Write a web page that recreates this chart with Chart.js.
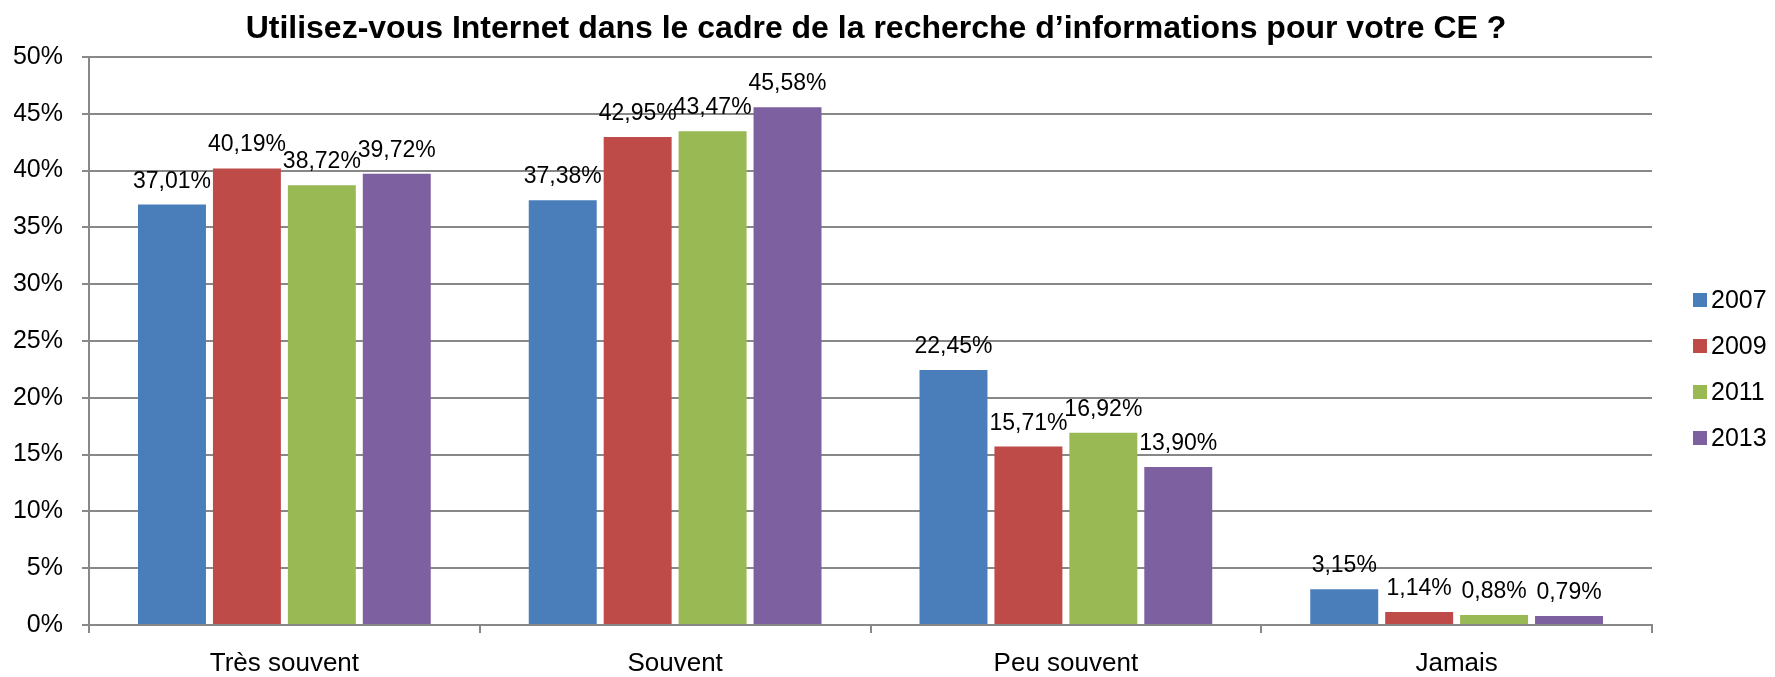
<!DOCTYPE html>
<html>
<head>
<meta charset="utf-8">
<script src="https://cdn.jsdelivr.net/npm/chart.js@4"></script>
<style>
  html, body { margin: 0; padding: 0; background: #fff; }
  #wrap { width: 1775px; height: 677px; }
</style>
</head>
<body>
<div id="wrap"><canvas id="myChart" width="1775" height="677"></canvas></div>
<script>
// données
const chartTitle = 'Utilisez-vous Internet dans le cadre de la recherche d\u2019informations pour votre CE ?';
const categories = ['Très souvent', 'Souvent', 'Peu souvent', 'Jamais'];
const years = ['2007', '2009', '2011', '2013'];
const v2007 = [37.01, 37.38, 22.45, 3.15];
const v2009 = [40.19, 42.95, 15.71, 1.14];
const v2011 = [38.72, 43.47, 16.92, 0.88];
const v2013 = [39.72, 45.58, 13.90, 0.79];
const colors = ['#4A7EBB', '#BE4B48', '#98B954', '#7D60A0'];

const FONT = "'Liberation Sans', Arial, sans-serif";
const GRID = '#888888';

// titre centré sur toute l'image (comme Excel)
const topTitle = {
    id: 'topTitle',
    afterDraw(chart) {
        const ctx = chart.ctx;
        ctx.save();
        ctx.font = 'bold 32px ' + FONT;
        ctx.fillStyle = '#000';
        ctx.textAlign = 'center';
        ctx.textBaseline = 'alphabetic';
        ctx.fillText(chartTitle, 876, 38);
        ctx.restore();
    }
};

// étiquettes de valeur au-dessus des barres
const barLabels = {
    id: 'barLabels',
    afterDatasetsDraw(chart) {
        const ctx = chart.ctx;
        ctx.save();
        ctx.font = '23px ' + FONT;
        ctx.fillStyle = '#000';
        ctx.textAlign = 'center';
        ctx.textBaseline = 'alphabetic';
        chart.data.datasets.forEach((ds, i) => {
            chart.getDatasetMeta(i).data.forEach((bar, j) => {
                const txt = ds.data[j].toFixed(2).replace('.', ',') + '%';
                ctx.fillText(txt, bar.x, bar.y - 17);
            });
        });
        ctx.restore();
    }
};

// légende à droite
const sideLegend = {
    id: 'sideLegend',
    afterDraw(chart) {
        const ctx = chart.ctx;
        ctx.save();
        ctx.font = '25px ' + FONT;
        ctx.textBaseline = 'middle';
        ctx.textAlign = 'left';
        chart.data.datasets.forEach((ds, i) => {
            const y = 300 + i * 46;
            ctx.fillStyle = ds.backgroundColor;
            ctx.fillRect(1693, y - 7, 14, 14);
            ctx.fillStyle = '#000';
            ctx.fillText(ds.label, 1711, y + 1);
        });
        ctx.restore();
    }
};

const series = [v2007, v2009, v2011, v2013];

new Chart(document.getElementById('myChart').getContext('2d'), {
    type: 'bar',
    data: {
        labels: categories,
        datasets: years.map((y, i) => ({
            label: y,
            data: series[i],
            backgroundColor: colors[i],
            categoryPercentage: 0.767,
            barPercentage: 0.907
        }))
    },
    options: {
        responsive: false,
        animation: false,
        layout: { padding: { left: 14, right: 123, top: 57, bottom: 0 } },
        plugins: {
            legend: { display: false },
            tooltip: { enabled: false },
            title: { display: false }
        },
        scales: {
            x: {
                afterFit: s => { s.height = 52; },
                grid: { display: true, drawOnChartArea: false, color: GRID, lineWidth: 2, tickLength: 8 },
                border: { display: true, color: GRID, width: 2 },
                ticks: { color: '#000', font: { family: FONT, size: 26 }, padding: 15 }
            },
            y: {
                min: 0,
                max: 50,
                afterFit: s => { s.width = 75; },
                ticks: {
                    stepSize: 5,
                    color: '#000',
                    font: { family: FONT, size: 25 },
                    padding: 19,
                    callback: v => v + '%'
                },
                grid: { color: GRID, lineWidth: 2, tickLength: 7 },
                border: { display: true, color: GRID, width: 2 }
            }
        }
    },
    plugins: [barLabels, sideLegend, topTitle]
});
</script>
</body>
</html>
